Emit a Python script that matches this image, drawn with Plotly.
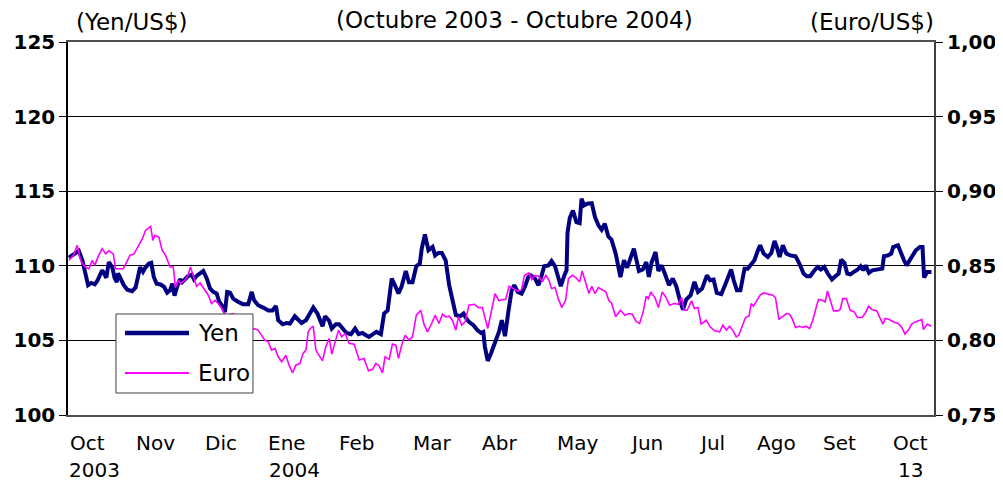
import plotly.graph_objects as go

# Trading-day index (0 = 1 Oct 2003, 271 = 13 Oct 2004)
yen_day = [0.3, 1.9, 3.4, 4.5, 5.2, 6.3, 7.3, 8.4, 9.2, 10.2, 10.7, 11.3, 12.0, 12.8, 13.9, 14.6, 15.3, 15.7, 16.5, 17.5,
           18.6, 20.1, 21.2, 21.9, 22.6, 23.5, 24.3, 25.4, 26.1, 26.9, 27.8, 29.0, 30.1, 31.1, 32.0, 32.7, 33.4, 34.2, 35.1, 35.8,
           36.9, 37.6, 38.8, 39.5, 40.5, 42.4, 43.5, 44.5, 45.5, 46.6, 47.4, 48.2, 49.2, 49.9, 50.8, 51.8, 53.4, 54.9, 56.5, 57.6,
           58.3, 59.6, 61.2, 62.8, 64.1, 65.2, 65.9, 67.3, 68.5, 69.6, 71.1, 72.2, 73.2, 74.6, 75.6, 76.9, 78.2, 79.8, 80.6, 81.9,
           82.7, 84.0, 85.0, 86.1, 87.3, 88.7, 90.0, 91.1, 92.3, 93.4, 94.4, 95.6, 96.7, 98.1, 99.1, 100.2, 100.9, 101.5, 102.5, 103.6,
           104.6, 105.9, 106.9, 108.0, 109.2, 110.3, 110.9, 111.9, 113.0, 114.3, 115.1, 116.1, 117.2, 118.4, 119.5, 120.5, 121.6, 122.9, 124.0, 124.7,
           125.7, 127.1, 128.4, 129.5, 130.2, 130.7, 131.6, 132.6, 133.9, 135.1, 136.0, 137.0, 138.1, 139.1, 139.9, 141.0, 142.2, 143.3, 144.3, 145.1,
           146.4, 147.5, 148.5, 149.3, 150.6, 151.6, 152.7, 153.7, 154.5, 155.6, 156.3, 156.6, 157.3, 158.3, 159.4, 160.4, 161.0, 161.8, 162.8, 164.2,
           165.2, 166.3, 167.3, 168.3, 169.4, 170.4, 171.7, 173.2, 174.3, 175.3, 176.4, 177.4, 179.0, 180.2, 181.3, 182.1, 183.0, 184.2, 185.1, 186.1,
           187.1, 188.4, 189.6, 190.7, 191.7, 192.8, 193.8, 195.2, 196.4, 197.5, 198.8, 200.3, 201.3, 202.4, 203.4, 204.8, 206.1, 207.2, 207.9, 208.7,
           209.7, 210.8, 211.6, 212.1, 213.1, 214.2, 215.2, 216.3, 217.0, 218.1, 219.4, 220.5, 221.5, 222.2, 223.1, 224.1, 225.2, 226.4, 228.1, 229.3,
           230.6, 231.6, 232.7, 233.7, 235.0, 236.0, 237.1, 238.2, 239.5, 240.6, 241.6, 242.4, 243.4, 244.3, 245.3, 246.4, 247.6, 248.5, 249.3, 250.1,
           251.1, 252.2, 253.2, 254.2, 255.3, 255.8, 257.1, 258.1, 258.7, 260.2, 261.1, 262.1, 262.9, 264.2, 265.8, 267.1, 267.9, 268.4, 269.4, 270.7]
yen_val = [110.55, 110.77, 111.0, 110.37, 109.6, 108.7, 108.85, 108.76, 109.0, 109.4, 109.7, 109.5, 109.2, 110.25, 109.9, 109.2, 108.9, 109.5, 109.15, 108.7,
           108.4, 108.3, 108.55, 109.25, 109.9, 109.6, 109.9, 110.15, 110.2, 109.25, 108.8, 108.75, 108.6, 108.2, 108.35, 108.8, 108.0, 108.6, 109.1, 108.9,
           109.15, 109.3, 109.4, 109.1, 109.36, 109.65, 109.15, 108.5, 108.25, 108.15, 107.6, 107.36, 106.9, 108.25, 108.2, 107.8, 107.58, 107.42, 107.42, 108.25,
           107.7, 107.36, 107.2, 107.0, 107.0, 107.3, 106.35, 106.08, 106.17, 106.13, 106.62, 106.35, 106.17, 106.35, 106.7, 107.2, 106.8, 105.95, 106.62, 106.3,
           105.8, 106.09, 106.09, 105.8, 105.5, 105.42, 105.8, 105.42, 105.5, 105.35, 105.24, 105.42, 105.57, 105.42, 106.8, 107.0, 108.03, 109.14, 108.7, 108.14,
           108.63, 109.65, 108.9, 108.9, 109.97, 110.15, 111.15, 112.1, 111.04, 111.26, 110.7, 110.86, 110.86, 110.37, 108.7, 107.7, 106.7, 106.62, 106.8, 106.53,
           106.24, 106.02, 105.68, 105.5, 105.57, 104.57, 103.63, 104.12, 104.8, 105.57, 106.35, 105.28, 107.0, 108.36, 108.7, 108.25, 108.14, 108.63, 109.25, 109.36,
           109.14, 108.7, 109.36, 109.97, 110.03, 110.32, 109.97, 109.25, 108.63, 109.36, 109.7, 112.2, 113.2, 113.7, 112.93, 112.86, 114.5, 114.05, 114.16, 114.2,
           113.27, 112.71, 112.42, 112.82, 111.97, 111.75, 110.82, 109.25, 110.37, 109.88, 110.59, 111.15, 109.65, 109.75, 110.25, 109.25, 110.25, 110.92, 109.65, 110.03,
           109.48, 108.7, 109.14, 108.63, 107.8, 107.07, 107.74, 108.03, 108.92, 108.25, 108.47, 109.36, 109.03, 109.08, 108.18, 108.1, 108.76, 109.3, 109.75, 109.03,
           108.36, 108.36, 109.14, 109.81, 109.81, 110.15, 110.37, 111.04, 111.37, 110.82, 110.59, 110.86, 111.66, 111.26, 110.59, 111.37, 110.82, 110.7, 110.64, 110.15,
           109.48, 109.3, 109.3, 109.6, 109.92, 109.75, 109.92, 109.48, 109.08, 109.3, 109.48, 110.42, 110.2, 109.48, 109.43, 109.59, 109.75, 109.97, 109.7, 110.03,
           109.52, 109.7, 109.75, 109.81, 109.81, 110.64, 110.7, 110.82, 111.26, 111.37, 110.82, 110.37, 110.03, 110.48, 111.04, 111.26, 111.26, 109.21, 109.59, 109.59]

euro_day = [0.3, 1.7, 2.9, 3.8, 4.5, 5.5, 6.6, 7.6, 8.4, 9.4, 10.7, 11.8, 12.8, 14.2, 14.9, 16.0, 17.3, 18.4, 19.4, 20.7,
            21.7, 23.3, 24.3, 25.9, 26.6, 27.2, 28.5, 29.5, 30.6, 32.0, 33.0, 33.7, 34.5, 35.3, 36.6, 37.6, 38.4, 39.3, 40.3, 41.4,
            42.6, 44.0, 45.0, 46.1, 47.1, 48.2, 49.2, 50.2, 51.6, 53.9, 56.1, 58.1, 59.6, 60.7, 61.7, 62.8, 63.8, 64.9, 65.9, 67.0,
            68.3, 69.3, 70.4, 71.4, 72.7, 73.7, 74.6, 75.3, 76.0, 76.9, 77.7, 78.7, 79.8, 80.8, 81.9, 82.7, 83.7, 84.8, 85.8, 86.9,
            88.1, 89.7, 91.3, 92.8, 94.2, 95.5, 96.5, 97.5, 98.6, 99.4, 100.7, 101.7, 102.8, 103.6, 104.6, 105.7, 106.9, 108.0, 109.2, 110.6,
            111.6, 112.7, 114.0, 115.1, 116.3, 117.4, 118.4, 119.5, 120.5, 121.6, 122.4, 123.4, 124.5, 125.7, 127.4, 128.7, 129.9, 131.6, 132.8, 133.9,
            135.1, 136.2, 137.2, 138.3, 139.6, 141.0, 142.2, 143.1, 144.5, 145.4, 146.4, 147.6, 148.7, 149.8, 150.8, 151.6, 152.7, 153.7, 154.8, 156.0,
            156.9, 158.1, 159.2, 160.4, 161.2, 162.3, 163.3, 164.2, 165.2, 166.3, 167.5, 168.6, 169.6, 170.4, 171.7, 173.2, 174.6, 175.9, 176.9, 178.0,
            179.2, 180.3, 181.3, 182.0, 182.7, 184.0, 185.1, 186.3, 187.4, 188.6, 190.0, 191.3, 192.4, 193.1, 194.1, 195.5, 196.4, 197.5, 198.5, 200.1,
            201.3, 202.7, 204.3, 205.3, 206.4, 207.4, 208.4, 209.5, 210.3, 211.4, 212.4, 213.5, 214.2, 214.9, 215.8, 217.0, 218.1, 219.4, 221.0, 221.8,
            222.9, 223.9, 225.2, 226.2, 227.0, 228.1, 229.3, 230.4, 231.4, 232.5, 233.5, 234.6, 235.3, 236.6, 237.4, 238.1, 239.2, 240.0, 241.3, 242.1,
            242.9, 244.0, 245.2, 246.5, 247.5, 248.9, 249.9, 251.0, 252.0, 253.6, 254.4, 255.5, 256.2, 257.5, 258.8, 260.3, 261.4, 262.4, 263.5, 264.5,
            265.6, 267.0, 267.7, 268.2, 269.4, 270.7]
euro_val = [0.8537, 0.857, 0.8637, 0.8548, 0.8515, 0.8492, 0.848, 0.8537, 0.8503, 0.856, 0.8615, 0.858, 0.86, 0.858, 0.848, 0.848, 0.848, 0.8525, 0.857, 0.858,
            0.8615, 0.868, 0.8737, 0.8764, 0.867, 0.8704, 0.8693, 0.8604, 0.857, 0.8492, 0.8492, 0.8354, 0.8403, 0.838, 0.8403, 0.8436, 0.8492, 0.8436, 0.8363, 0.8385,
            0.8347, 0.8303, 0.8247, 0.8269, 0.8247, 0.8214, 0.8175, 0.8169, 0.818, 0.815, 0.811, 0.808, 0.8069, 0.8035, 0.8002, 0.799, 0.7935, 0.7946, 0.789, 0.7857,
            0.790, 0.7834, 0.7782, 0.7834, 0.7845, 0.7913, 0.7935, 0.8057, 0.808, 0.8095, 0.7935, 0.790, 0.7863, 0.7957, 0.8013, 0.7908, 0.799, 0.8069, 0.8024, 0.8046,
            0.798, 0.7975, 0.7868, 0.7879, 0.7797, 0.7806, 0.7846, 0.783, 0.7783, 0.789, 0.7873, 0.7975, 0.7968, 0.7879, 0.7968, 0.8035, 0.8002, 0.8024, 0.8169, 0.8202,
            0.8109, 0.8057, 0.8113, 0.8169, 0.8113, 0.8176, 0.8158, 0.8162, 0.8135, 0.8069, 0.8158, 0.8102, 0.8124, 0.8236, 0.8242, 0.822, 0.822, 0.808, 0.8202, 0.8314,
            0.8265, 0.8274, 0.8274, 0.8363, 0.8347, 0.8331, 0.834, 0.8436, 0.8452, 0.8408, 0.8436, 0.843, 0.8392, 0.8436, 0.8403, 0.8347, 0.8354, 0.828, 0.822, 0.8269,
            0.8414, 0.8436, 0.8421, 0.8392, 0.8465, 0.8392, 0.8314, 0.8363, 0.8314, 0.8354, 0.834, 0.8325, 0.8265, 0.8251, 0.8158, 0.8202, 0.8169, 0.818, 0.8176, 0.8131,
            0.8113, 0.8191, 0.8296, 0.828, 0.8325, 0.8287, 0.822, 0.8325, 0.8291, 0.8236, 0.8247, 0.8242, 0.8287, 0.8202, 0.8202, 0.8265, 0.8214, 0.822, 0.8109, 0.8135,
            0.8091, 0.8064, 0.8057, 0.8102, 0.8069, 0.8095, 0.8069, 0.8024, 0.8035, 0.8091, 0.8153, 0.8162, 0.8247, 0.8229, 0.8258, 0.8303, 0.8318, 0.8309, 0.8303, 0.8287,
            0.814, 0.8158, 0.818, 0.8176, 0.8147, 0.8087, 0.8095, 0.8087, 0.8095, 0.808, 0.8135, 0.8224, 0.8274, 0.8269, 0.8258, 0.8331, 0.8251, 0.8198, 0.8198, 0.8207,
            0.828, 0.828, 0.8202, 0.8191, 0.8153, 0.8153, 0.818, 0.8229, 0.8207, 0.8198, 0.8158, 0.8109, 0.8147, 0.814, 0.8124, 0.8113, 0.8087, 0.8042, 0.8069, 0.8109,
            0.8124, 0.8135, 0.814, 0.8073, 0.8109, 0.8095]

month_labels = ["Oct", "Nov", "Dic", "Ene", "Feb", "Mar", "Abr", "May", "Jun", "Jul", "Ago", "Set", "Oct"]
month_pos = [6.0, 27.3, 47.9, 68.6, 90.5, 114.4, 135.3, 159.8, 181.4, 201.8, 222.1, 241.9, 264.1]
year_labels = ["2003", "2004", "13"]
year_pos = [8.2, 71.1, 264.1]

yen_ticks = [100, 105, 110, 115, 120, 125]
euro_ticks = [0.75, 0.80, 0.85, 0.90, 0.95, 1.00]

series_names = ["Yen", "Euro"]
series_colors = ["#000080", "#FF00FF"]
series_widths = [4, 1.6]

FONT = "DejaVu Sans"

fig = go.Figure()
fig.add_trace(go.Scatter(x=yen_day, y=yen_val, name=series_names[0], mode="lines",
                         line=dict(color=series_colors[0], width=series_widths[0]), yaxis="y"))
fig.add_trace(go.Scatter(x=euro_day, y=euro_val, name=series_names[1], mode="lines",
                         line=dict(color=series_colors[1], width=series_widths[1]), yaxis="y2"))

annotations = []
for lab, pos in zip(month_labels, month_pos):
    annotations.append(dict(x=pos, y=0, xref="x", yref="paper", text=lab, showarrow=False,
                            xanchor="center", yanchor="top", yshift=-14,
                            font=dict(family=FONT, size=20, color="black")))
for lab, pos in zip(year_labels, year_pos):
    annotations.append(dict(x=pos, y=0, xref="x", yref="paper", text=lab, showarrow=False,
                            xanchor="center", yanchor="top", yshift=-41,
                            font=dict(family=FONT, size=20, color="black")))
annotations += [
    dict(x=0.516, y=1.058, xref="paper", yref="paper", text="(Octubre 2003 - Octubre 2004)",
         showarrow=False, xanchor="center", yanchor="middle", font=dict(family=FONT, size=23, color="black")),
    dict(x=0.074, y=1.054, xref="paper", yref="paper", text="(Yen/US$)",
         showarrow=False, xanchor="center", yanchor="middle", font=dict(family=FONT, size=23, color="black")),
    dict(x=0.928, y=1.054, xref="paper", yref="paper", text="(Euro/US$)",
         showarrow=False, xanchor="center", yanchor="middle", font=dict(family=FONT, size=23, color="black")),
]

# hand-drawn legend box (wide line samples like the original)
leg_x0, leg_x1, leg_y0, leg_y1 = 0.0554, 0.2136, 0.059, 0.2708
sample_x0, sample_x1, text_x = 0.0658, 0.1397, 0.1478
row_y = [0.2198, 0.1126]
shapes = [dict(type="rect", xref="paper", yref="paper", x0=leg_x0, x1=leg_x1, y0=leg_y0, y1=leg_y1,
               line=dict(color="#404040", width=1), fillcolor="white", layer="above")]
for name, col, wid, yy in zip(series_names, series_colors, series_widths, row_y):
    shapes.append(dict(type="line", xref="paper", yref="paper", x0=sample_x0, x1=sample_x1, y0=yy, y1=yy,
                       line=dict(color=col, width=wid + 0.5), layer="above"))
    annotations.append(dict(x=text_x, y=yy, xref="paper", yref="paper", text=name, showarrow=False,
                            xanchor="left", yanchor="middle", font=dict(family=FONT, size=23, color="black")))

fig.update_layout(
    width=995, height=475,
    margin=dict(l=60, r=69, t=34, b=68, autoexpand=False),
    paper_bgcolor="white", plot_bgcolor="white",
    separators=",.",
    showlegend=False,
    annotations=annotations,
    shapes=shapes,
    xaxis=dict(range=[0, 271.5], showgrid=False, zeroline=False, showticklabels=False,
               ticks="", showline=True, linecolor="#505050", linewidth=2, mirror=True),
    yaxis=dict(range=[100, 125], tickvals=yen_ticks, showgrid=True, gridcolor="black", gridwidth=1,
               zeroline=False, ticks="outside", ticklen=7, tickcolor="black",
               showline=True, linecolor="black", linewidth=1.5,
               tickfont=dict(family=FONT, size=20, color="black", weight="bold")),
    yaxis2=dict(range=[0.75, 1.00], tickvals=euro_ticks, tickformat=".2f", overlaying="y", side="right",
                showgrid=False, zeroline=False, ticks="outside", ticklen=7, tickcolor="black",
                showline=True, linecolor="#404040", linewidth=2,
                tickfont=dict(family=FONT, size=20, color="black", weight="bold")),
)

fig.write_html("out.html")
